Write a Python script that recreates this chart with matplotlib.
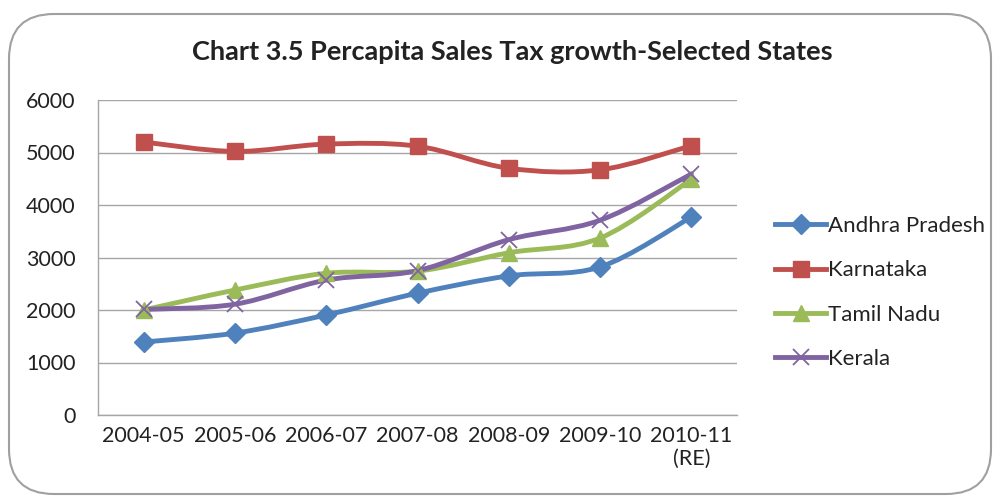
import numpy as np
import matplotlib.pyplot as plt
from matplotlib.path import Path
from matplotlib.patches import PathPatch, FancyBboxPatch
from matplotlib.lines import Line2D

plt.rcParams['font.family'] = ['Lato', 'DejaVu Sans']

# 年份及各邦人均销售税
years = ['2004-05', '2005-06', '2006-07', '2007-08', '2008-09', '2009-10', '2010-11\n(RE)']
andhra = [1390, 1560, 1905, 2320, 2650, 2820, 3770]
karnataka = [5200, 5020, 5160, 5120, 4700, 4670, 5130]
tamil = [2000, 2380, 2700, 2740, 3090, 3370, 4490]
kerala = [2010, 2110, 2570, 2750, 3340, 3710, 4590]

series = [
    ('Andhra Pradesh', andhra, '#4F81BD', 'D', 10),
    ('Karnataka', karnataka, '#C0504D', 's', 11),
    ('Tamil Nadu', tamil, '#9BBB59', '^', 11),
    ('Kerala', kerala, '#8064A2', 'x', 11),
]


# 平滑曲线：三次贝塞尔控制点（类似 Excel 的平滑线）
def smooth_path(xs, ys):
    xs = np.asarray(xs, float)
    ys = np.asarray(ys, float)
    n = len(xs)
    verts = [(xs[0], ys[0])]
    codes = [Path.MOVETO]
    for i in range(n - 1):
        p0 = (xs[max(i - 1, 0)], ys[max(i - 1, 0)])
        p1 = (xs[i], ys[i])
        p2 = (xs[i + 1], ys[i + 1])
        p3 = (xs[min(i + 2, n - 1)], ys[min(i + 2, n - 1)])
        c1 = (p1[0] + (p2[0] - p0[0]) / 6, p1[1] + (p2[1] - p0[1]) / 6)
        c2 = (p2[0] - (p3[0] - p1[0]) / 6, p2[1] - (p3[1] - p1[1]) / 6)
        verts += [c1, c2, p2]
        codes += [Path.CURVE4] * 3
    return Path(verts, codes)


fig = plt.figure(figsize=(10, 5), dpi=100)
fig.patch.set_facecolor('white')

# 圆角外框
frame = FancyBboxPatch((0.009, 0.012), 0.982, 0.96,
                       boxstyle='round,pad=0,rounding_size=0.045',
                       transform=fig.transFigure, facecolor='none',
                       edgecolor='#A0A0A0', linewidth=1.5, mutation_aspect=2)
fig.patches.append(frame)

ax = fig.add_axes([0.098, 0.17, 0.639, 0.63])
x = np.arange(len(years))

for name, vals, color, marker, ms in series:
    patch = PathPatch(smooth_path(x, vals), facecolor='none', edgecolor=color,
                      linewidth=3.5, capstyle='round', joinstyle='round', zorder=3)
    ax.add_patch(patch)
    if marker == 'x':
        ax.plot(x, vals, linestyle='none', marker=marker, markersize=ms,
                markeredgecolor=color, markeredgewidth=1.3, zorder=4)
    else:
        ax.plot(x, vals, linestyle='none', marker=marker, markersize=ms,
                color=color, markeredgecolor=color, zorder=4)

ax.set_xlim(-0.5, len(years) - 0.5)
ax.set_ylim(0, 6000)
ax.set_yticks(np.arange(0, 6001, 1000))
ax.set_xticks(x)
ax.set_xticklabels(years)
ax.grid(axis='y', color='#A6A6A6', linewidth=1.0)
ax.set_axisbelow(True)
for side in ['top', 'right']:
    ax.spines[side].set_visible(False)
for side in ['left', 'bottom']:
    ax.spines[side].set_color('#A6A6A6')
    ax.spines[side].set_linewidth(1.0)
ax.tick_params(axis='both', labelsize=15.5, labelcolor='#222222', length=0)
ax.tick_params(axis='x', pad=8)
ax.tick_params(axis='y', pad=16)

fig.text(0.512, 0.895, 'Chart 3.5 Percapita Sales Tax growth-Selected States',
         ha='center', va='center', fontsize=19.5, fontweight='bold', color='#222222')

# 图例
handles = [Line2D([], [], color=c, linewidth=3.5, marker=m, markersize=ms,
                  markeredgecolor=c, markeredgewidth=1.3 if m == 'x' else 1)
           for _, _, c, m, ms in series]
fig.legend(handles, [s[0] for s in series], loc='center left',
           bbox_to_anchor=(0.755, 0.415), frameon=False, fontsize=16,
           handlelength=2.3, handletextpad=0.1, labelspacing=1.1,
           labelcolor='#222222')

fig.savefig('out.png', dpi=100)
